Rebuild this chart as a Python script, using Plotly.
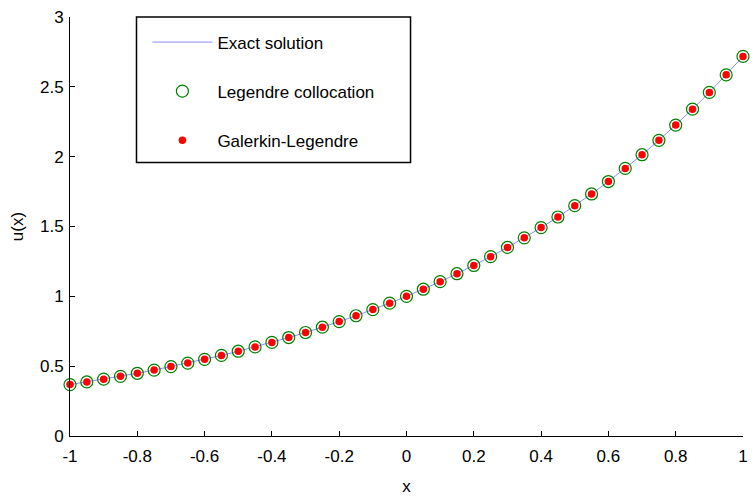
import plotly.graph_objects as go

x_vals = [-1.00, -0.95, -0.90, -0.85, -0.80, -0.75, -0.70, -0.65, -0.60, -0.55,
          -0.50, -0.45, -0.40, -0.35, -0.30, -0.25, -0.20, -0.15, -0.10, -0.05,
          0.00, 0.05, 0.10, 0.15, 0.20, 0.25, 0.30, 0.35, 0.40, 0.45,
          0.50, 0.55, 0.60, 0.65, 0.70, 0.75, 0.80, 0.85, 0.90, 0.95, 1.00]

exact_vals = [0.368, 0.387, 0.407, 0.427, 0.449, 0.472, 0.497, 0.522, 0.549, 0.577,
              0.607, 0.638, 0.670, 0.705, 0.741, 0.779, 0.819, 0.861, 0.905, 0.951,
              1.000, 1.051, 1.105, 1.162, 1.221, 1.284, 1.350, 1.419, 1.492, 1.568,
              1.649, 1.733, 1.822, 1.916, 2.014, 2.117, 2.226, 2.340, 2.460, 2.586, 2.718]

collocation_vals = [0.368, 0.387, 0.407, 0.427, 0.449, 0.472, 0.497, 0.522, 0.549, 0.577,
                    0.607, 0.638, 0.670, 0.705, 0.741, 0.779, 0.819, 0.861, 0.905, 0.951,
                    1.000, 1.051, 1.105, 1.162, 1.221, 1.284, 1.350, 1.419, 1.492, 1.568,
                    1.649, 1.733, 1.822, 1.916, 2.014, 2.117, 2.226, 2.340, 2.460, 2.586, 2.718]

galerkin_vals = [0.368, 0.387, 0.407, 0.427, 0.449, 0.472, 0.497, 0.522, 0.549, 0.577,
                 0.607, 0.638, 0.670, 0.705, 0.741, 0.779, 0.819, 0.861, 0.905, 0.951,
                 1.000, 1.051, 1.105, 1.162, 1.221, 1.284, 1.350, 1.419, 1.492, 1.568,
                 1.649, 1.733, 1.822, 1.916, 2.014, 2.117, 2.226, 2.340, 2.460, 2.586, 2.718]

x_ticks = [-1, -0.8, -0.6, -0.4, -0.2, 0, 0.2, 0.4, 0.6, 0.8, 1]
x_tick_labels = ["-1", "-0.8", "-0.6", "-0.4", "-0.2", "0", "0.2", "0.4", "0.6", "0.8", "1"]
y_ticks = [0, 0.5, 1, 1.5, 2, 2.5, 3]
y_tick_labels = ["0", "0.5", "1", "1.5", "2", "2.5", "3"]

FONT = "Liberation Sans, Arial, sans-serif"

fig = go.Figure()
fig.add_trace(go.Scatter(x=x_vals, y=exact_vals, mode="lines", name="Exact solution",
                         line=dict(color="#8c8cff", width=1), legendgroup="a",
                         cliponaxis=False))
fig.add_trace(go.Scatter(x=x_vals, y=collocation_vals, mode="markers", name="Legendre collocation",
                         marker=dict(symbol="circle-open", size=12, color="#008000",
                                     line=dict(width=1.2, color="#008000")),
                         legendgroup="b", cliponaxis=False))
fig.add_trace(go.Scatter(x=x_vals, y=galerkin_vals, mode="markers", name="Galerkin-Legendre",
                         marker=dict(symbol="circle", size=7.5, color="#ff0000"),
                         legendgroup="c", cliponaxis=False))

fig.update_layout(
    width=753, height=497,
    margin=dict(l=70, r=5, t=17, b=59),
    paper_bgcolor="white", plot_bgcolor="white",
    font=dict(family=FONT, size=17, color="black"),
    showlegend=True,
    legend=dict(x=0.115, y=0.982, xanchor="left", yanchor="top",
                bgcolor="rgba(0,0,0,0)", borderwidth=0,
                font=dict(family=FONT, size=17, color="black"),
                tracegroupgap=24, itemwidth=60, traceorder="grouped"),
    xaxis=dict(range=[-1, 1], tickmode="array", tickvals=x_ticks, ticktext=x_tick_labels,
               ticks="inside", ticklen=5, tickcolor="black", showline=True, linecolor="black",
               linewidth=1, showgrid=False, zeroline=False, mirror=False,
               ticklabelstandoff=5,
               title=dict(text="x", font=dict(size=17), standoff=14)),
    yaxis=dict(range=[0, 3], tickmode="array", tickvals=y_ticks, ticktext=y_tick_labels,
               ticks="inside", ticklen=5, tickcolor="black", showline=True, linecolor="black",
               linewidth=1, showgrid=False, zeroline=False, mirror=False,
               ticklabelstandoff=2,
               title=dict(text="u(x)", font=dict(size=17), standoff=12)),
    shapes=[dict(type="rect", xref="paper", yref="paper",
                 x0=0.0988, x1=0.506, y0=0.653, y1=1.0,
                 line=dict(color="black", width=1.5), fillcolor="rgba(0,0,0,0)")],
)

fig.write_html("out.html")
